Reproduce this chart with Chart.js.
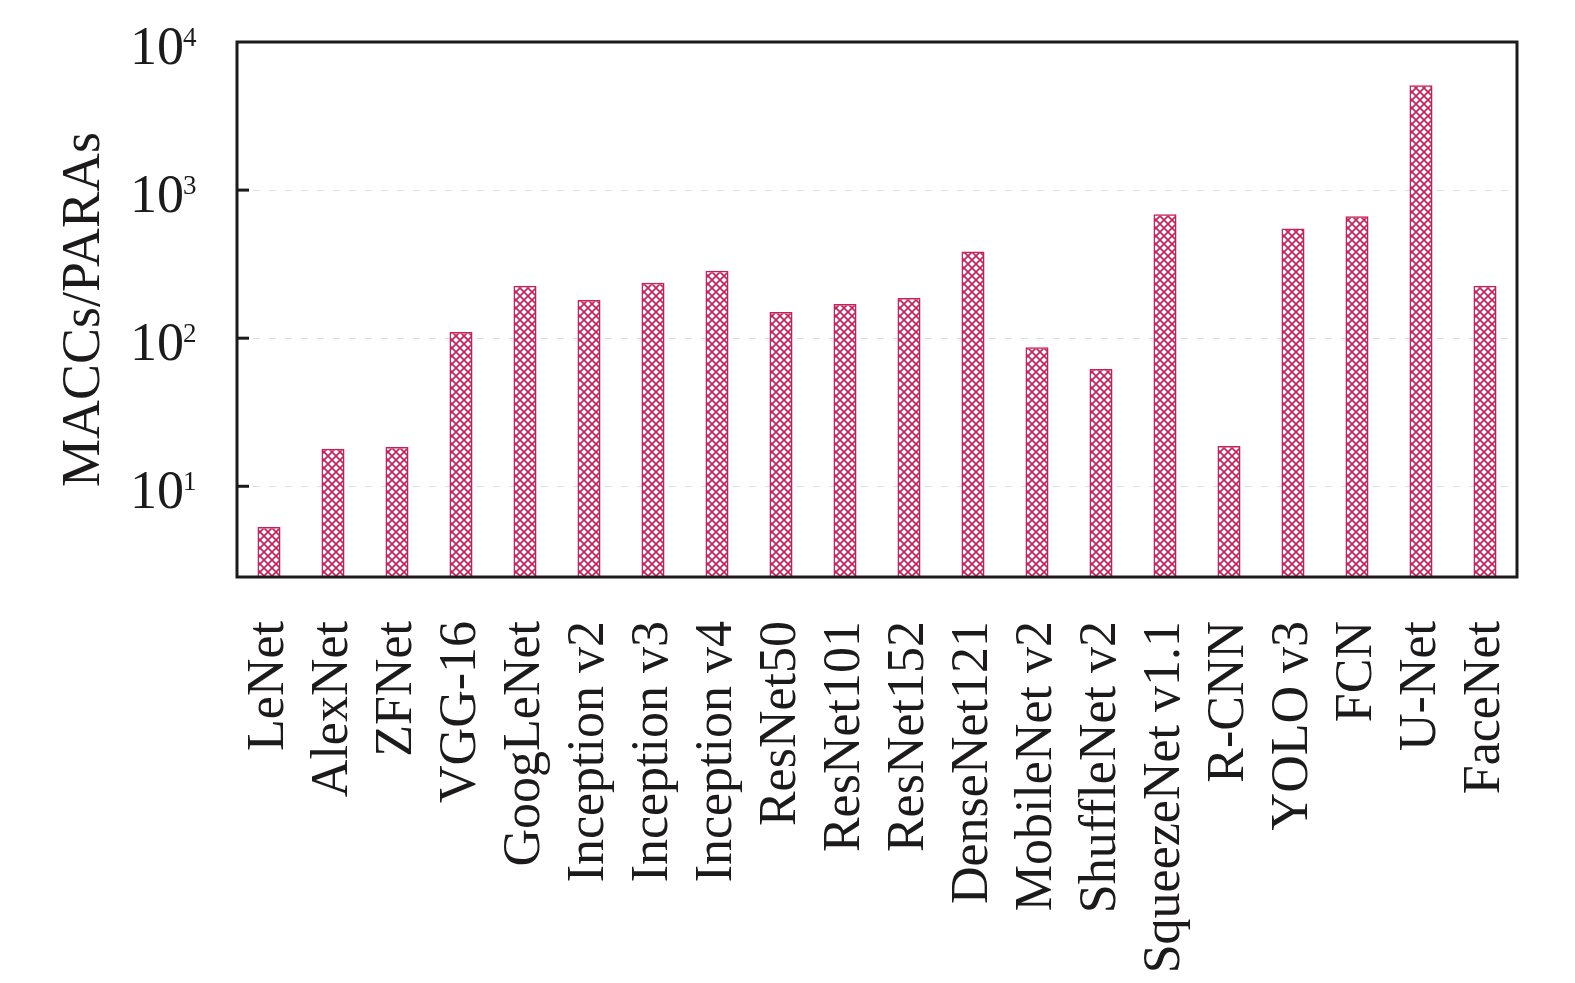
<!DOCTYPE html>
<html>
<head>
<meta charset="utf-8">
<script src="https://cdn.jsdelivr.net/npm/chart.js@4.4.1/dist/chart.umd.min.js"></script>
<style>
  html, body { margin: 0; padding: 0; background: #fff; overflow: hidden; }
  #wrap { width: 1575px; height: 983px; }
  canvas { display: block; }
</style>
</head>
<body>
<div id="wrap"><canvas id="ratioChart"></canvas></div>
<script>
// network names along the x axis
const models = [
  'LeNet', 'AlexNet', 'ZFNet', 'VGG-16', 'GoogLeNet', 'Inception v2',
  'Inception v3', 'Inception v4', 'ResNet50', 'ResNet101', 'ResNet152',
  'DenseNet121', 'MobileNet v2', 'ShuffleNet v2', 'SqueezeNet v1.1',
  'R-CNN', 'YOLO v3', 'FCN', 'U-Net', 'FaceNet'
];

// MACCs / PARAs ratio
const ratios = [
  5.3, 17.9, 18.4, 110, 226, 181,
  237, 285, 150, 170, 187,
  385, 87, 62, 687,
  18.7, 551, 665, 5100, 226
];

// decade ticks and their exponents
const tickValues = [10, 100, 1000, 10000];
const tickExponents = ['1', '2', '3', '4'];
const yMin = 2.44;

const barColor = '#c6215a';
const inkColor = '#1c1a1b';
const serif = '"Liberation Serif", "DejaVu Serif", serif';

// crosshatch fill like the printed figure
const makeHatch = () => {
  const s = 8;
  const c = document.createElement('canvas');
  c.width = s; c.height = s;
  const g = c.getContext('2d');
  g.strokeStyle = barColor;
  g.lineWidth = 1.7;
  g.beginPath();
  g.moveTo(0, 0); g.lineTo(s, s);
  g.moveTo(0, s); g.lineTo(s, 0);
  g.stroke();
  return g.createPattern(c, 'repeat');
};

// box frame, inward ticks and 10^n labels
const frameAndTicks = {
  id: 'frameAndTicks',
  afterDraw(chart) {
    const { ctx, chartArea: a } = chart;
    const y = chart.scales.y;
    ctx.save();
    ctx.strokeStyle = inkColor;
    ctx.lineWidth = 3;
    ctx.strokeRect(a.left, a.top, a.right - a.left, a.bottom - a.top);

    tickValues.forEach((v, i) => {
      const py = y.getPixelForValue(v);
      if (i < tickValues.length - 1) {
        ctx.beginPath();
        ctx.moveTo(a.left, py);
        ctx.lineTo(a.left + 12, py);
        ctx.stroke();
      }
      ctx.fillStyle = inkColor;
      ctx.font = '54px ' + serif;
      ctx.textAlign = 'right';
      ctx.textBaseline = 'alphabetic';
      ctx.fillText('10', 184, py + 22);
      ctx.font = '27px ' + serif;
      ctx.textAlign = 'left';
      ctx.fillText(tickExponents[i], 183, py + 4);
    });
    ctx.restore();
  }
};

const ctx = document.getElementById('ratioChart').getContext('2d');
new Chart(ctx, {
  type: 'bar',
  data: {
    labels: models,
    datasets: [{
      data: ratios,
      backgroundColor: makeHatch(),
      borderColor: barColor,
      borderWidth: 1.5,
      categoryPercentage: 1,
      barPercentage: 0.36
    }]
  },
  options: {
    responsive: true,
    maintainAspectRatio: false,
    animation: false,
    layout: { padding: { top: 42, right: 58, left: 0, bottom: 0 } },
    plugins: {
      legend: { display: false },
      tooltip: { enabled: false }
    },
    scales: {
      x: {
        grid: { display: false },
        border: { display: false },
        ticks: {
          color: inkColor,
          font: { family: serif, size: 52 },
          minRotation: 90,
          maxRotation: 90,
          padding: 36,
          autoSkip: false
        },
        afterFit(scale) {
          scale.height = 406;
          scale.paddingLeft = 0;
          scale.paddingRight = 0;
        }
      },
      y: {
        type: 'logarithmic',
        min: yMin,
        max: 10000,
        border: { display: false, dash: [7, 9] },
        grid: {
          drawTicks: false,
          color: (c) => (c.tick && c.tick.value < 10000) ? 'rgba(185,200,200,0.6)' : 'rgba(0,0,0,0)',
          lineWidth: 1
        },
        ticks: { display: false },
        afterBuildTicks(scale) {
          scale.ticks = tickValues.map(v => ({ value: v }));
        },
        title: {
          display: true,
          text: 'MACCs/PARAs',
          color: inkColor,
          font: { family: serif, size: 54 },
          padding: { top: 52, bottom: 0 }
        },
        afterFit(scale) { scale.width = 237; }
      }
    }
  },
  plugins: [frameAndTicks]
});
</script>
</body>
</html>
